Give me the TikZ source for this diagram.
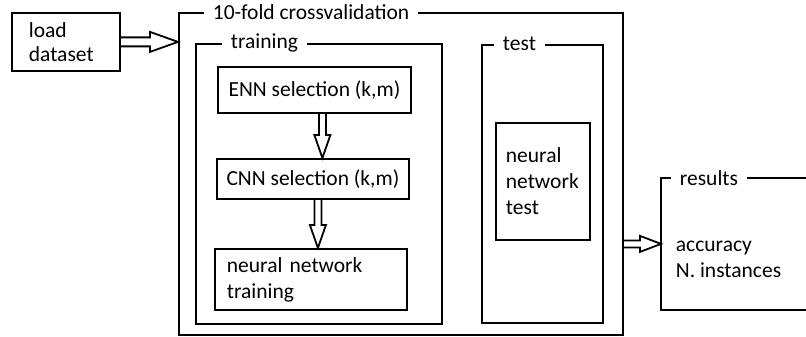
\documentclass[tikz,border=0pt]{standalone}
\usepackage{fontspec}
\setmainfont{Carlito}
\usetikzlibrary{calc,positioning}

\begin{document}
\begin{tikzpicture}[x=1pt, y=-1pt, line width=1.8pt, every node/.style={font=\fontsize{21.5}{26}\selectfont},
    hollow/.style n args={3}{line join=miter, to path={
        ($(\tikztotarget)!#1!(\tikztostart)$) coordinate (hb)
        ($(\tikztostart)!#3!-90:(hb)$) -- ($(hb)!#3!90:(\tikztostart)$) -- ($(hb)!#2!90:(\tikztostart)$)
        -- (\tikztotarget)
        -- ($(hb)!#2!-90:(\tikztostart)$) -- ($(hb)!#3!-90:(\tikztostart)$) -- ($(\tikztostart)!#3!90:(hb)$)}}]
    % Define styles for boxes, frames and frame titles
    \tikzstyle{block} = [draw, rectangle, anchor=north west, inner ysep=0pt]
    \tikzstyle{textblock} = [block, align=left]
    \tikzstyle{frame} = [draw, rectangle, anchor=north west, inner sep=0pt]
    \tikzstyle{title} = [fill=white, anchor=west, inner xsep=9pt, inner ysep=3pt]

    \useasboundingbox (0,0) rectangle (806,337);

    % Nodes placement
    \node [textblock, minimum width=108, minimum height=58, text width=74pt, inner xsep=17pt] (load) at (11,12) {load\\[-2pt]dataset};

    \node [frame, minimum width=444, minimum height=322] (cv) at (178,12) {};
    \node [frame, minimum width=246, minimum height=280] (training) at (195,43) {};
    \node [frame, minimum width=121, minimum height=278] (test) at (481,44) {};

    \node [block, minimum width=193, minimum height=46] (enn) at (217,66) {ENN selection (k,m)};
    \node [block, minimum width=192, minimum height=40] (cnn) at (216,158) {CNN selection (k,m)};
    \node [textblock, minimum height=61, text width=168pt, inner xsep=12pt] (nntrain) at (214,248) {neural network\\training};
    \node [textblock, minimum height=117, text width=74pt, inner xsep=10pt] (nntest) at (495,122) {neural\\network\\test};

    \node [frame, draw=none, minimum width=145, minimum height=130] (results) at (661,178) {};
    \node [anchor=west, align=left, inner sep=0pt] (resinfo) at ([xshift=14pt, yshift=-15pt]results.west) {accuracy\\N. instances};
    \draw (results.north east) -- (results.north west) -- (results.south west) -- (results.south east); % open to the right

    % Frame titles
    \node [title] (cvtitle) at ([xshift=25pt]cv.north west) {10-fold crossvalidation};
    \node [title] (traintitle) at ([xshift=26pt]training.north west) {training};
    \node [title] (testtitle) at ([xshift=12pt]test.north west) {test};
    \node [title] (restitle) at ([xshift=9pt]results.north west) {results};

    % Draw edges
    \coordinate (cvin) at (load.east -| cv.west);
    \coordinate (cvout) at (results.west -| cv.east);
    \coordinate (ennout) at ([xshift=8pt]enn.south);
    \coordinate (cnnin) at (ennout |- cnn.north);
    \coordinate (cnnout) at ([xshift=5pt]cnn.south);
    \coordinate (trainin) at (cnnout |- nntrain.north);

    \draw [hollow={28pt}{10pt}{4.5pt}] (load.east) to (cvin);
    \draw [hollow={23pt}{8pt}{3.5pt}] (ennout) to (cnnin);
    \draw [hollow={23pt}{8pt}{3.5pt}] (cnnout) to (trainin);
    \draw [hollow={21pt}{8pt}{3.5pt}] (cvout) to (results.west);
\end{tikzpicture}
\end{document}
